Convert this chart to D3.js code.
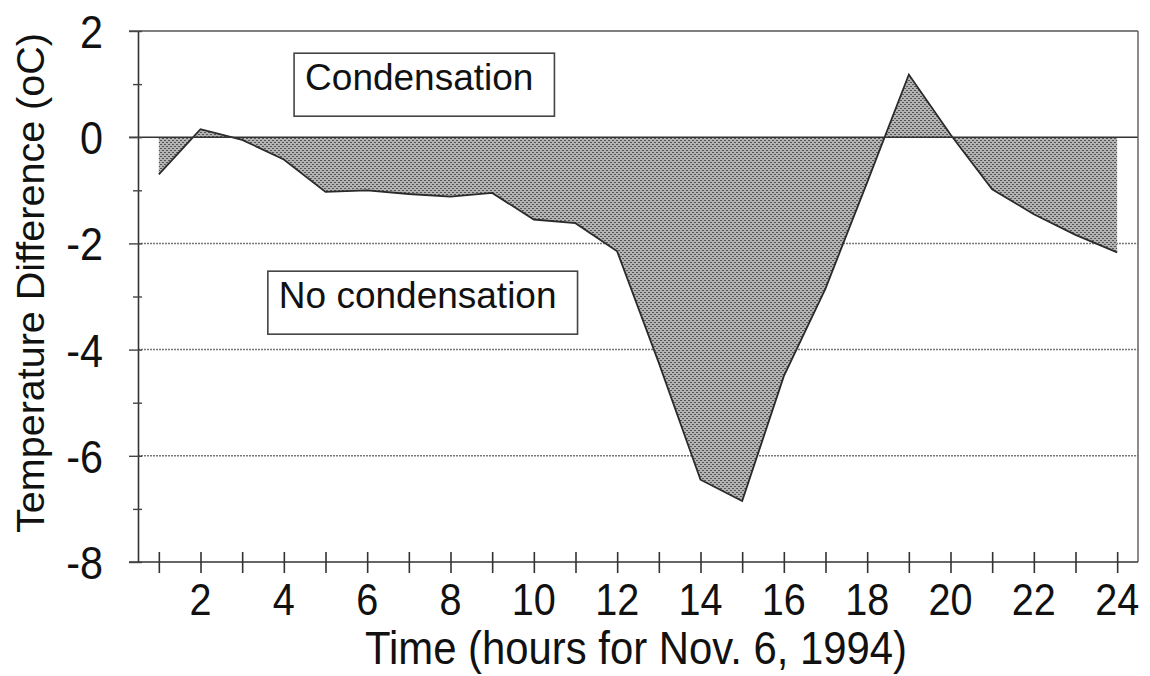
<!DOCTYPE html>
<html>
<head>
<meta charset="utf-8">
<script src="https://cdn.jsdelivr.net/npm/d3@7"></script>
<style>
  body { margin: 0; background: #fff; }
  text { font-family: "Liberation Sans", Arial, sans-serif; fill: #111; }
</style>
</head>
<body>
<svg id="chart" width="1150" height="676"></svg>
<script>
// hourly readings, Nov. 6, 1994
const hours = [1, 2, 3, 4, 5, 6, 7, 8, 9, 10, 11, 12, 13, 14, 15, 16, 17, 18, 19, 20, 21, 22, 23, 24]
const tempDiff = [-0.7, 0.15, -0.05, -0.42, -1.03, -1.0, -1.07, -1.12, -1.05, -1.55, -1.62, -2.15,
  -4.25, -6.45, -6.85, -4.5, -2.85, -0.85, 1.18, 0.05, -0.98, -1.45, -1.84, -2.17]
const xTickLabels = [2, 4, 6, 8, 10, 12, 14, 16, 18, 20, 22, 24]
const yTickLabels = [2, 0, -2, -4, -6, -8]
const gridValues = [-2, -4, -6]
const annotations = [
  { text: 'Condensation', hour: 4.51, value: 0.885 },
  { text: 'No condensation', hour: 3.88, value: -3.22 }
]

const svg = d3.select('#chart')
const plot = { left: 138, right: 1138, top: 31, bottom: 562 }

const xScale = d3.scaleLinear().domain([0.5, 24.5]).range([plot.left, plot.right])
const yScale = d3.scaleLinear().domain([-8, 2]).range([plot.bottom, plot.top])

const data = hours.map((h, i) => ({ h: h, v: tempDiff[i] }))

// dotted fill like the old printer shading
const defs = svg.append('defs')
const pat = defs.append('pattern')
  .attr('id', 'shade')
  .attr('width', 4)
  .attr('height', 4)
  .attr('patternUnits', 'userSpaceOnUse')
pat.append('rect').attr('width', 4).attr('height', 4).attr('fill', '#b3b3b3')
pat.append('rect').attr('width', 2).attr('height', 1).attr('fill', '#555')
pat.append('rect').attr('x', 2).attr('y', 2).attr('width', 2).attr('height', 1).attr('fill', '#555')

// gridlines
svg.selectAll('line.grid')
  .data(gridValues)
  .enter()
  .append('line')
  .attr('class', 'grid')
  .attr('x1', plot.left)
  .attr('x2', plot.right)
  .attr('y1', d => yScale(d))
  .attr('y2', d => yScale(d))
  .attr('stroke', '#777')
  .attr('stroke-width', 1.5)
  .attr('stroke-dasharray', '2,1')

// area between the curve and zero
const area = d3.area()
  .x(d => xScale(d.h))
  .y0(yScale(0))
  .y1(d => yScale(d.v))
svg.append('path')
  .datum(data)
  .attr('d', area)
  .attr('fill', 'url(#shade)')

const line = d3.line()
  .x(d => xScale(d.h))
  .y(d => yScale(d.v))
svg.append('path')
  .datum(data)
  .attr('d', line)
  .attr('fill', 'none')
  .attr('stroke', '#2a2a2a')
  .attr('stroke-width', 1.8)

// zero line
svg.append('line')
  .attr('x1', plot.left - 9)
  .attr('x2', plot.right)
  .attr('y1', yScale(0))
  .attr('y2', yScale(0))
  .attr('stroke', '#333')
  .attr('stroke-width', 1.6)

// frame: top and right
svg.append('line')
  .attr('x1', plot.left - 9).attr('x2', plot.right)
  .attr('y1', plot.top).attr('y2', plot.top)
  .attr('stroke', '#555').attr('stroke-width', 1.5)
svg.append('line')
  .attr('x1', plot.right).attr('x2', plot.right)
  .attr('y1', plot.top).attr('y2', plot.bottom)
  .attr('stroke', '#666').attr('stroke-width', 1.5)

// x axis
const xAxis = d3.axisBottom(xScale)
  .tickValues(hours)
  .tickSizeInner(11)
  .tickSizeOuter(0)
  .tickFormat('')
const gx = svg.append('g')
  .attr('transform', `translate(0,${plot.bottom})`)
  .call(xAxis)
gx.select('.domain').attr('stroke', '#333').attr('stroke-width', 1.6)
  .attr('d', `M${plot.left - 9},0H${plot.right}`)
gx.selectAll('.tick line').attr('y1', -10).attr('stroke', '#333').attr('stroke-width', 1.6)

// labels in the original are a bit narrow, squeeze them horizontally
svg.selectAll('text.xlab')
  .data(xTickLabels)
  .enter()
  .append('text')
  .attr('class', 'xlab')
  .attr('transform', d => `translate(${xScale(d)},615) scale(0.88,1)`)
  .attr('text-anchor', 'middle')
  .style('font-size', '45px')
  .text(d => d)

// y axis
const yAxis = d3.axisLeft(yScale)
  .tickValues(d3.range(-8, 3, 1))
  .tickSizeInner(5)
  .tickSizeOuter(0)
  .tickFormat('')
const gy = svg.append('g')
  .attr('transform', `translate(${plot.left},0)`)
  .call(yAxis)
gy.select('.domain').attr('stroke', '#333').attr('stroke-width', 1.6)
gy.selectAll('.tick line').attr('x2', d => d % 2 === 0 ? -9 : -5).attr('x1', 4)
  .attr('stroke', '#444').attr('stroke-width', 1.4)

svg.selectAll('text.ylab')
  .data(yTickLabels)
  .enter()
  .append('text')
  .attr('class', 'ylab')
  .attr('transform', d => `translate(103,${yScale(d) + 17}) scale(0.88,1)`)
  .attr('text-anchor', 'end')
  .style('font-size', '47px')
  .text(d => d)

// axis titles
svg.append('text')
  .attr('x', 636)
  .attr('y', 664)
  .attr('text-anchor', 'middle')
  .attr('textLength', 542)
  .attr('lengthAdjust', 'spacingAndGlyphs')
  .style('font-size', '47px')
  .text('Time (hours for Nov. 6, 1994)')

svg.append('text')
  .attr('transform', 'translate(44,283) rotate(-90)')
  .attr('text-anchor', 'middle')
  .style('font-size', '39.5px')
  .text('Temperature Difference (oC)')

// annotation boxes
annotations.forEach(a => {
  const g = svg.append('g')
  const t = g.append('text')
    .attr('x', xScale(a.hour))
    .attr('y', yScale(a.value))
    .style('font-size', '37px')
    .text(a.text)
  const bb = t.node().getBBox()
  g.insert('rect', 'text')
    .attr('x', bb.x - 11)
    .attr('y', bb.y - 4)
    .attr('width', bb.width + 32)
    .attr('height', bb.height + 22)
    .attr('fill', '#fff')
    .attr('stroke', '#444')
    .attr('stroke-width', 1.6)
})
</script>
</body>
</html>
